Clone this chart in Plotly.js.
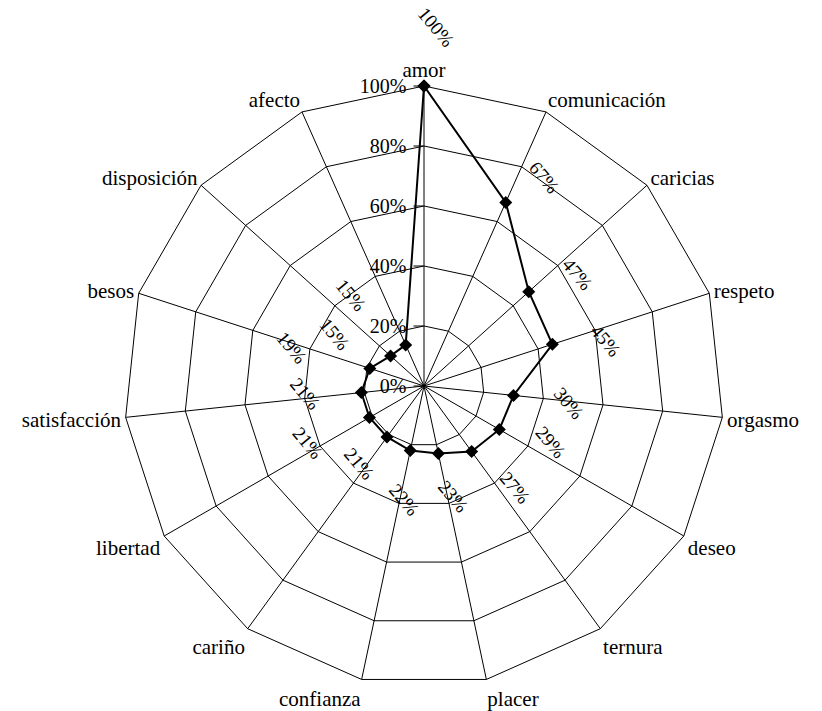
<!DOCTYPE html>
<html>
<head>
<meta charset="utf-8">
<script src="https://cdn.plot.ly/plotly-3.0.1.min.js"></script>
<style>html,body{margin:0;padding:0;background:#fff;}#chart{width:822px;height:711px;}</style>
</head>
<body>
<div id="chart"></div>
<script>
// ---- data ----
const categories = ['amor','comunicación','caricias','respeto','orgasmo','deseo','ternura','placer','confianza','cariño','libertad','satisfacción','besos','disposición','afecto'];
const values = [100, 67, 47, 45, 30, 29, 27, 23, 22, 21, 21, 21, 19, 15, 15];
const valueLabels = values.map(v => v + '%');
const radialTicks = [0, 20, 40, 60, 80, 100];
const radialTickLabels = ['0%', '20%', '40%', '60%', '80%', '100%'];

// ---- layout / label placement (styling only) ----
const W = 822, H = 711;
const margin = {l: 124, r: 98, t: 86, b: 25};
const plotW = W - margin.l - margin.r, plotH = H - margin.t - margin.b;
const R = Math.min(plotW, plotH) / 2;
const rMax = 100;
const font = 'Liberation Serif, Times New Roman, serif';
// per-label nudges (distance beyond the point in px, extra turn in degrees)
const labelGapPx  = [59, 40, 49, 52, 56, 52, 55, 45, 49, 38, 67, 56, 81, 58, 71];
const labelTurnDeg = [2, 6, 6, 4, 1, -6, -6, -3, -2, 4, 4, 2.5, -2, -12, -15];

// closed polygon
const rClosed = values.concat([values[0]]);
const tClosed = categories.concat([categories[0]]);

const trace = {
  type: 'scatterpolar',
  r: rClosed,
  theta: tClosed,
  mode: 'lines+markers',
  line: {color: '#000', width: 2},
  marker: {symbol: 'diamond', size: 10, color: '#000'},
  hoverinfo: 'skip',
  showlegend: false
};

// value labels, placed from the data through the polar geometry
const n = categories.length;
const annotations = values.map((v, i) => {
  const a = (i * 360 / n + labelTurnDeg[i]) * Math.PI / 180;
  const rp = v / rMax * R + labelGapPx[i];
  return {
    xref: 'paper', yref: 'paper',
    x: 0.5 + rp * Math.sin(a) / plotW,
    y: 0.5 + rp * Math.cos(a) / plotH,
    xanchor: 'center', yanchor: 'middle',
    text: valueLabels[i],
    showarrow: false,
    textangle: 50,
    font: {family: font, size: 19, color: '#000'}
  };
});

const layout = {
  width: W, height: H,
  margin: margin,
  paper_bgcolor: '#fff',
  showlegend: false,
  font: {family: font, color: '#000'},
  polar: {
    domain: {x: [0, 1], y: [0, 1]},
    bgcolor: '#fff',
    gridshape: 'linear',
    angularaxis: {
      direction: 'clockwise',
      rotation: 90,
      showline: true,
      linecolor: '#000',
      linewidth: 1,
      gridcolor: '#000',
      gridwidth: 1,
      ticks: '',
      tickfont: {family: font, size: 21, color: '#000'}
    },
    radialaxis: {
      range: [0, rMax],
      angle: 90,
      side: 'counterclockwise',
      tickvals: radialTicks,
      ticktext: radialTickLabels,
      showline: false,
      gridcolor: '#000',
      gridwidth: 1,
      ticks: 'outside',
      ticklen: 10,
      tickcolor: '#000',
      tickangle: 90,
      tickfont: {family: font, size: 20, color: '#000'}
    }
  },
  annotations: annotations
};

Plotly.newPlot('chart', [trace], layout, {displayModeBar: false, staticPlot: true});
</script>
</body>
</html>
